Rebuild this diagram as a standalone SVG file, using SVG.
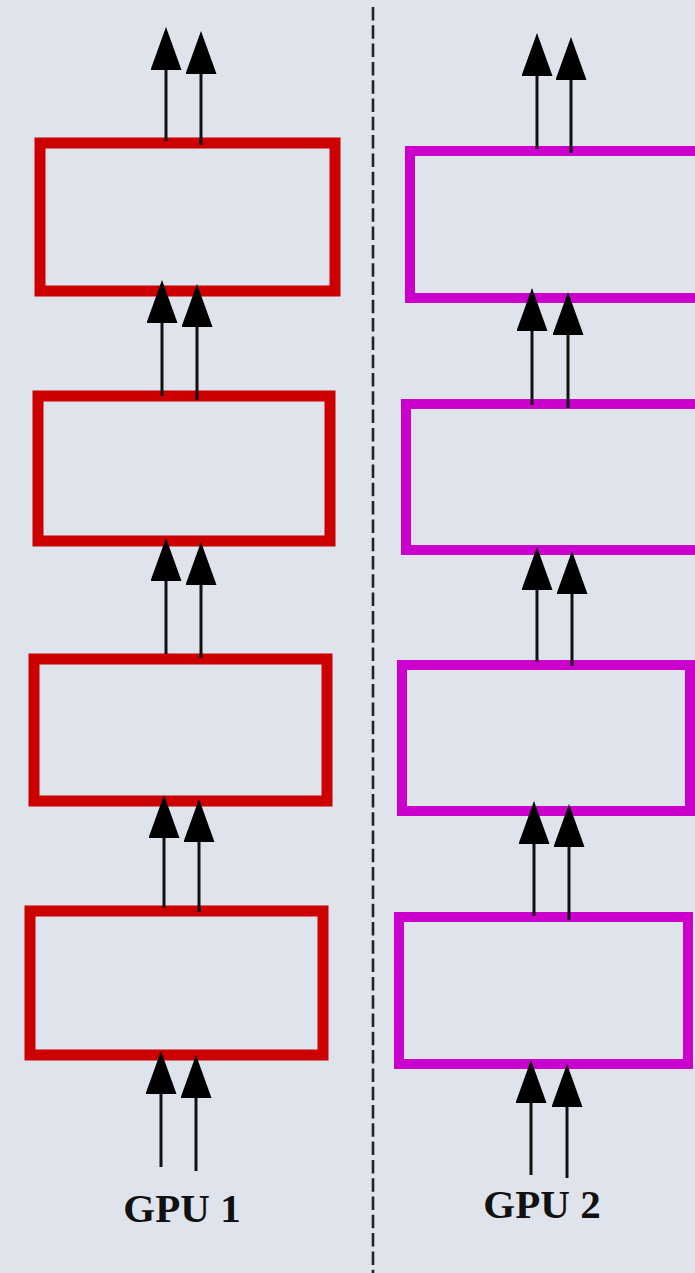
<svg xmlns="http://www.w3.org/2000/svg" width="695" height="1273" viewBox="0 0 695 1273">
  <defs>
    <marker id="head" viewBox="0 0 43 31" refX="33" refY="15.5" markerWidth="43" markerHeight="31" markerUnits="userSpaceOnUse" orient="auto">
      <path d="M0,0 L43,15.5 L0,31 z" fill="#000"/>
    </marker>
    <style>
      .gpu1 { fill: none; stroke: #cc0000; stroke-width: 11; }
      .gpu2 { fill: none; stroke: #cc00cc; stroke-width: 10; }
      .arrow { stroke: #111; stroke-width: 3; marker-end: url(#head); }
      .split { stroke: #222; stroke-width: 2.6; stroke-dasharray: 13.5 4.8; }
      .label { font-family: "Liberation Serif", "DejaVu Serif", serif; font-weight: bold; font-size: 41px; fill: #111; text-anchor: middle; }
    </style>
  </defs>

  <rect width="695" height="1273" fill="#dfe3eb"/>

  <!-- divider between the two devices -->
  <line class="split" x1="373" y1="7" x2="373" y2="1273"/>

  <!-- GPU 1 layers -->
  <g id="gpu1-layer4"><rect class="gpu1" x="40" y="143" width="295" height="148"/></g>
  <g id="gpu1-layer3"><rect class="gpu1" x="38" y="396" width="292" height="145"/></g>
  <g id="gpu1-layer2"><rect class="gpu1" x="34" y="659" width="293" height="142"/></g>
  <g id="gpu1-layer1"><rect class="gpu1" x="30" y="911" width="293" height="144"/></g>

  <!-- GPU 2 layers -->
  <g id="gpu2-layer4"><rect class="gpu2" x="410" y="151" width="300" height="147"/></g>
  <g id="gpu2-layer3"><rect class="gpu2" x="406" y="404" width="300" height="146"/></g>
  <g id="gpu2-layer2"><rect class="gpu2" x="402" y="665" width="288" height="146"/></g>
  <g id="gpu2-layer1"><rect class="gpu2" x="399" y="917" width="289" height="147"/></g>

  <!-- data flow -->
  <g id="connectors">
    <!-- GPU 1 -->
    <line class="arrow" x1="166" y1="141" x2="166" y2="37"/>
    <line class="arrow" x1="201" y1="145" x2="201" y2="41"/>
    <line class="arrow" x1="162" y1="396" x2="162" y2="290"/>
    <line class="arrow" x1="197" y1="400" x2="197" y2="294"/>
    <line class="arrow" x1="166" y1="654" x2="166" y2="548"/>
    <line class="arrow" x1="201" y1="658" x2="201" y2="552"/>
    <line class="arrow" x1="164" y1="908" x2="164" y2="805"/>
    <line class="arrow" x1="199" y1="912" x2="199" y2="809"/>
    <line class="arrow" x1="161" y1="1167" x2="161" y2="1061"/>
    <line class="arrow" x1="196" y1="1171" x2="196" y2="1065"/>
    <!-- GPU 2 -->
    <line class="arrow" x1="537" y1="149" x2="537" y2="43"/>
    <line class="arrow" x1="571" y1="153" x2="571" y2="47"/>
    <line class="arrow" x1="532" y1="405" x2="532" y2="298"/>
    <line class="arrow" x1="568" y1="408" x2="568" y2="302"/>
    <line class="arrow" x1="537" y1="662" x2="537" y2="557"/>
    <line class="arrow" x1="572" y1="666" x2="572" y2="561"/>
    <line class="arrow" x1="534" y1="916" x2="534" y2="811"/>
    <line class="arrow" x1="569" y1="920" x2="569" y2="814"/>
    <line class="arrow" x1="531" y1="1175" x2="531" y2="1070"/>
    <line class="arrow" x1="567" y1="1178" x2="567" y2="1074"/>
  </g>

  <g id="labels">
    <text class="label" x="182" y="1222">GPU 1</text>
    <text class="label" x="542" y="1218">GPU 2</text>
  </g>
</svg>
